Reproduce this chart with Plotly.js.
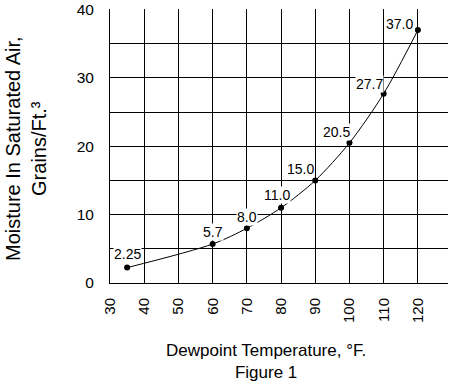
<!DOCTYPE html>
<html>
<head>
<meta charset="utf-8">
<script src="https://cdn.plot.ly/plotly-3.0.1.min.js"></script>
<style>html,body{margin:0;padding:0;background:#fff;}#chart{width:449px;height:383px;}</style>
</head>
<body>
<div id="chart"></div>
<script>
// Data
const dewpointF = [35, 60, 70, 80, 90, 100, 110, 120];
const moistureGrains = [2.25, 5.7, 8.0, 11.0, 15.0, 20.5, 27.7, 37.0];
const pointLabels = ['2.25', '5.7', '8.0', '11.0', '15.0', '20.5', '27.7', '37.0'];
const xTickVals = [30, 40, 50, 60, 70, 80, 90, 100, 110, 120];
const yGridVals = [0, 5, 10, 15, 20, 25, 30, 35, 40];
const yTickText = ['0', '', '10', '', '20', '', '30', '', '40'];

// label placement (style only)
const labelXAnchor = ['center', 'center', 'center', 'center', 'right', 'right', 'right', 'right'];
const labelXShift = [0, 0, 0, -4, 0, 2, 0, -4];
const labelYShift = [14, 12, 11, 13, 11, 11, 10, 6];

const font = 'Liberation Sans, Arial, sans-serif';

const trace = {
  x: dewpointF,
  y: moistureGrains,
  mode: 'lines+markers',
  line: {color: '#000', width: 1, shape: 'spline', smoothing: 0.8},
  marker: {color: '#000', size: 6},
  hoverinfo: 'skip',
  cliponaxis: false
};

const annotations = dewpointF.map((xv, i) => ({
  x: xv, y: moistureGrains[i], xref: 'x', yref: 'y',
  text: pointLabels[i], showarrow: false,
  xanchor: labelXAnchor[i], yanchor: 'middle',
  xshift: labelXShift[i], yshift: labelYShift[i],
  bgcolor: '#fff', borderpad: 0,
  font: {family: font, size: 14, color: '#000'}
}));

annotations.push({
  x: 75.7, xref: 'x', y: 0, yref: 'paper', yanchor: 'top', yshift: -56,
  text: 'Dewpoint Temperature, °F.<br>Figure 1', showarrow: false,
  font: {family: font, size: 17, color: '#000'}
});

annotations.push({
  x: 0, xref: 'paper', xanchor: 'center', xshift: -84,
  y: 0.5, yref: 'paper', yanchor: 'middle', yshift: -3,
  textangle: -90,
  text: 'Moisture In Saturated Air,<br>Grains/Ft.³', showarrow: false,
  font: {family: font, size: 20, color: '#000'}
});

const layout = {
  width: 449, height: 383,
  margin: {l: 110, r: 1, t: 9, b: 100},
  paper_bgcolor: '#fff', plot_bgcolor: '#fff',
  showlegend: false,
  xaxis: {
    range: [30, 128.8], tickvals: xTickVals, ticktext: xTickVals.map(String),
    tickangle: -90, showgrid: true, gridcolor: '#000', gridwidth: 1,
    zeroline: false, showline: true, linecolor: '#000', linewidth: 1,
    ticks: '', ticklabelstandoff: 8,
    tickfont: {family: font, size: 15, color: '#000'}, fixedrange: true
  },
  yaxis: {
    range: [0, 40.08], tickvals: yGridVals, ticktext: yTickText,
    showgrid: true, gridcolor: '#000', gridwidth: 1,
    zeroline: false, showline: true, linecolor: '#000', linewidth: 1,
    ticks: '', ticklabelstandoff: 12,
    tickfont: {family: font, size: 15.5, color: '#000'},
    fixedrange: true
  },
  annotations: annotations
};

Plotly.newPlot('chart', [trace], layout, {displayModeBar: false, staticPlot: true});
</script>
</body>
</html>
